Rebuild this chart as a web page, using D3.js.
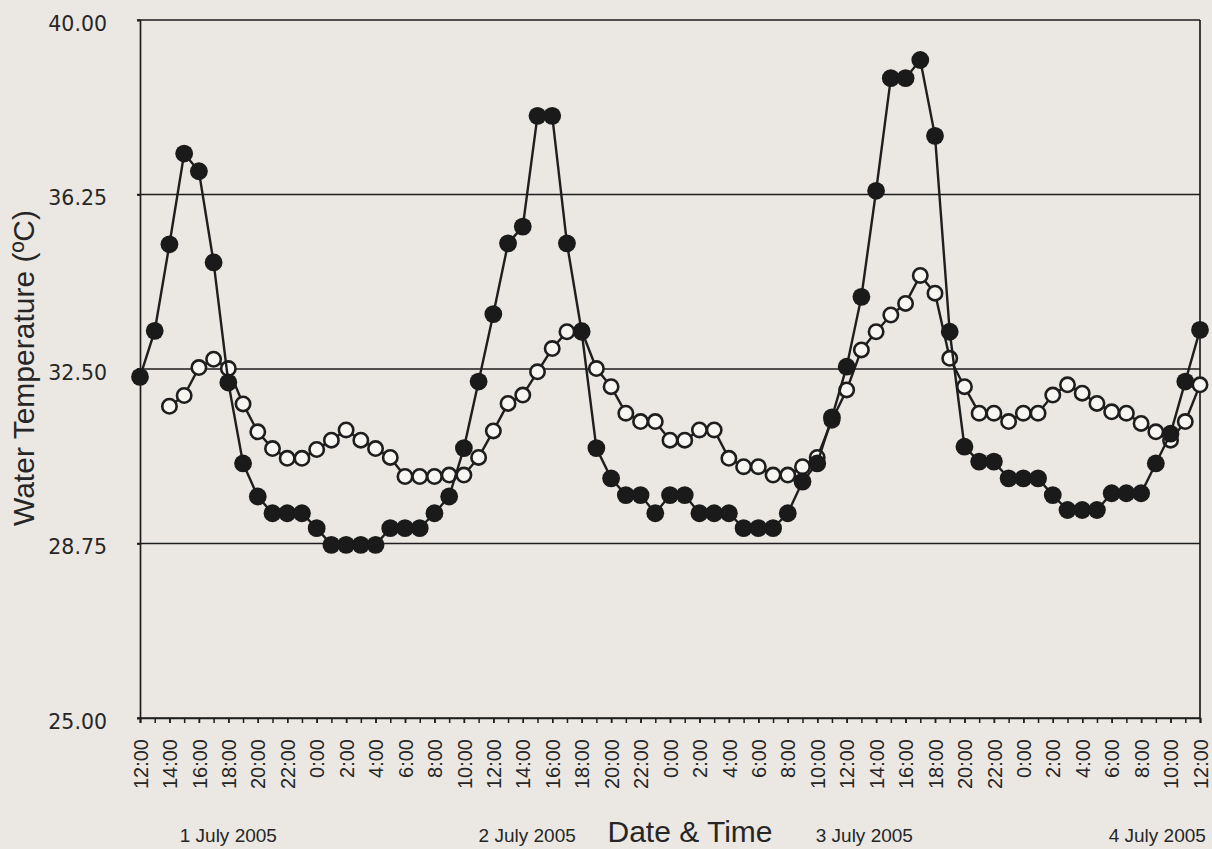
<!DOCTYPE html>
<html>
<head>
<meta charset="utf-8">
<script src="https://cdn.jsdelivr.net/npm/d3@7/dist/d3.min.js"></script>
<style>
  html, body { margin: 0; padding: 0; background: #ebe8e3; }
  svg { display: block; }
</style>
</head>
<body>
<svg id="chart" width="1212" height="849"></svg>
<script>
// ---- data (hourly readings, 12:00 1 July 2005 to 12:00 4 July 2005) ----
const startTime = new Date(2005, 6, 1, 12, 0);
const hourCount = 73;

const filledSeries = [
  32.33, 33.32, 35.18, 37.13, 36.75, 34.79, 32.21, 30.47, 29.76, 29.40,
  29.40, 29.40, 29.08, 28.72, 28.72, 28.72, 28.72, 29.08, 29.08, 29.08,
  29.40, 29.76, 30.80, 32.23, 33.68, 35.20, 35.56, 37.94, 37.94, 35.20,
  33.30, 30.80, 30.15, 29.79, 29.79, 29.40, 29.79, 29.79, 29.40, 29.40,
  29.40, 29.08, 29.08, 29.08, 29.40, 30.08, 30.47, 31.46, 32.55, 34.05,
  36.33, 38.75, 38.75, 39.14, 37.51, 33.30, 30.83, 30.51, 30.51, 30.15,
  30.15, 30.15, 29.79, 29.47, 29.47, 29.47, 29.83, 29.83, 29.83, 30.47,
  31.11, 32.23, 33.34
];

const openSeries = [
  null, null, 31.70, 31.93, 32.53, 32.71, 32.51, 31.75, 31.15, 30.79,
  30.58, 30.58, 30.77, 30.97, 31.19, 30.97, 30.79, 30.60, 30.19, 30.19,
  30.19, 30.22, 30.22, 30.60, 31.17, 31.76, 31.94, 32.44, 32.94, 33.30,
  33.32, 32.51, 32.12, 31.55, 31.37, 31.37, 30.97, 30.97, 31.19, 31.19,
  30.58, 30.40, 30.40, 30.22, 30.22, 30.40, 30.60, 31.40, 32.05, 32.91,
  33.30, 33.66, 33.91, 34.51, 34.13, 32.73, 32.12, 31.55, 31.55, 31.37,
  31.55, 31.55, 31.94, 32.16, 31.98, 31.76, 31.58, 31.55, 31.33, 31.15,
  30.97, 31.37, 32.16
];

const yTicks = [25.00, 28.75, 32.50, 36.25, 40.00];
const dayLabels = ["1 July 2005", "2 July 2005", "3 July 2005", "4 July 2005"];
const dayLabelHours = [6.0, 26.3, 49.2, 69.1];
const xTitle = "Date & Time";
const yTitle = "Water Temperature (ºC)";

// ---- layout ----
const margin = { left: 140, top: 20, right: 12, bottom: 131 };
const W = 1212, H = 849;
const innerW = W - margin.left - margin.right;
const innerH = H - margin.top - margin.bottom;
const ink = "#1e1e1e";

const times = d3.range(hourCount).map(i => d3.timeHour.offset(startTime, i));
const endTime = times[times.length - 1];

const x = d3.scaleTime().domain([startTime, endTime]).range([0, innerW]);
const y = d3.scaleLinear().domain([25, 40]).range([innerH, 0]);

const svg = d3.select("#chart");
const g = svg.append("g").attr("transform", `translate(${margin.left},${margin.top})`);

// gridlines
g.append("g")
  .selectAll("line")
  .data(yTicks)
  .join("line")
  .attr("x1", -3).attr("x2", innerW)
  .attr("y1", d => y(d)).attr("y2", d => y(d))
  .attr("stroke", ink).attr("stroke-width", 1.7);

// right border
g.append("line")
  .attr("x1", innerW).attr("x2", innerW)
  .attr("y1", 0).attr("y2", innerH)
  .attr("stroke", ink).attr("stroke-width", 1.7);

// y axis
const yAxis = g.append("g")
  .call(d3.axisLeft(y).tickValues(yTicks).tickFormat(d3.format(".2f")).tickSize(3).tickPadding(30));
yAxis.select(".domain").attr("stroke", ink).attr("stroke-width", 1.7);
yAxis.selectAll(".tick line").attr("stroke", ink).attr("stroke-width", 1.7);
yAxis.selectAll(".tick text")
  .attr("font-family", "DejaVu Sans")
  .attr("font-size", 20.5)
  .attr("fill", "#262626")
  .attr("dy", "0.5em");

// x axis (hourly minor ticks, labels every 2 h)
const xAxisMinor = g.append("g")
  .attr("transform", `translate(0,${innerH})`)
  .call(d3.axisBottom(x).ticks(d3.timeHour.every(1)).tickFormat("").tickSize(5));
xAxisMinor.select(".domain").attr("stroke", ink).attr("stroke-width", 1.7);
xAxisMinor.selectAll(".tick line").attr("stroke", ink).attr("stroke-width", 1.5);

const xAxis = g.append("g")
  .attr("transform", `translate(0,${innerH})`)
  .call(d3.axisBottom(x).ticks(d3.timeHour.every(2)).tickFormat(d3.timeFormat("%-H:%M")).tickSize(5));
xAxis.select(".domain").remove();
xAxis.selectAll(".tick line").attr("stroke", ink).attr("stroke-width", 1.5);
xAxis.selectAll(".tick text")
  .attr("font-family", "Liberation Sans, Arial, sans-serif")
  .attr("font-size", 20)
  .attr("fill", "#262626")
  .attr("text-anchor", "end")
  .attr("transform", "rotate(-90)")
  .attr("x", -21)
  .attr("y", 0)
  .attr("dy", "0.36em");

// series
const line = d3.line()
  .defined(d => d.v != null)
  .x(d => x(d.t))
  .y(d => y(d.v));

const openData = times.map((t, i) => ({ t, v: openSeries[i] }));
const filledData = times.map((t, i) => ({ t, v: filledSeries[i] }));

g.append("path").datum(openData)
  .attr("d", line).attr("fill", "none")
  .attr("stroke", ink).attr("stroke-width", 2.4);
g.append("g").selectAll("circle")
  .data(openData.filter(d => d.v != null))
  .join("circle")
  .attr("cx", d => x(d.t)).attr("cy", d => y(d.v))
  .attr("r", 7.2)
  .attr("fill", "#f7f6f3")
  .attr("stroke", ink).attr("stroke-width", 2.6);

g.append("path").datum(filledData)
  .attr("d", line).attr("fill", "none")
  .attr("stroke", ink).attr("stroke-width", 2.4);
g.append("g").selectAll("circle")
  .data(filledData)
  .join("circle")
  .attr("cx", d => x(d.t)).attr("cy", d => y(d.v))
  .attr("r", 8.9)
  .attr("fill", "#1a1a1a");

// day labels
g.append("g").selectAll("text")
  .data(dayLabels)
  .join("text")
  .attr("x", (d, i) => x(d3.timeMinute.offset(startTime, dayLabelHours[i] * 60)))
  .attr("y", innerH + 124)
  .attr("text-anchor", "middle")
  .attr("font-family", "Liberation Sans, Arial, sans-serif")
  .attr("font-size", 19)
  .attr("fill", "#262626")
  .text(d => d);

// axis titles
g.append("text")
  .attr("x", 550)
  .attr("y", innerH + 124)
  .attr("text-anchor", "middle")
  .attr("font-family", "Liberation Sans, Arial, sans-serif")
  .attr("font-size", 30)
  .attr("fill", "#262626")
  .text(xTitle);

svg.append("text")
  .attr("transform", "translate(34,368) rotate(-90)")
  .attr("text-anchor", "middle")
  .attr("font-family", "Liberation Sans, Arial, sans-serif")
  .attr("font-size", 30)
  .attr("fill", "#262626")
  .text(yTitle);
</script>
</body>
</html>
